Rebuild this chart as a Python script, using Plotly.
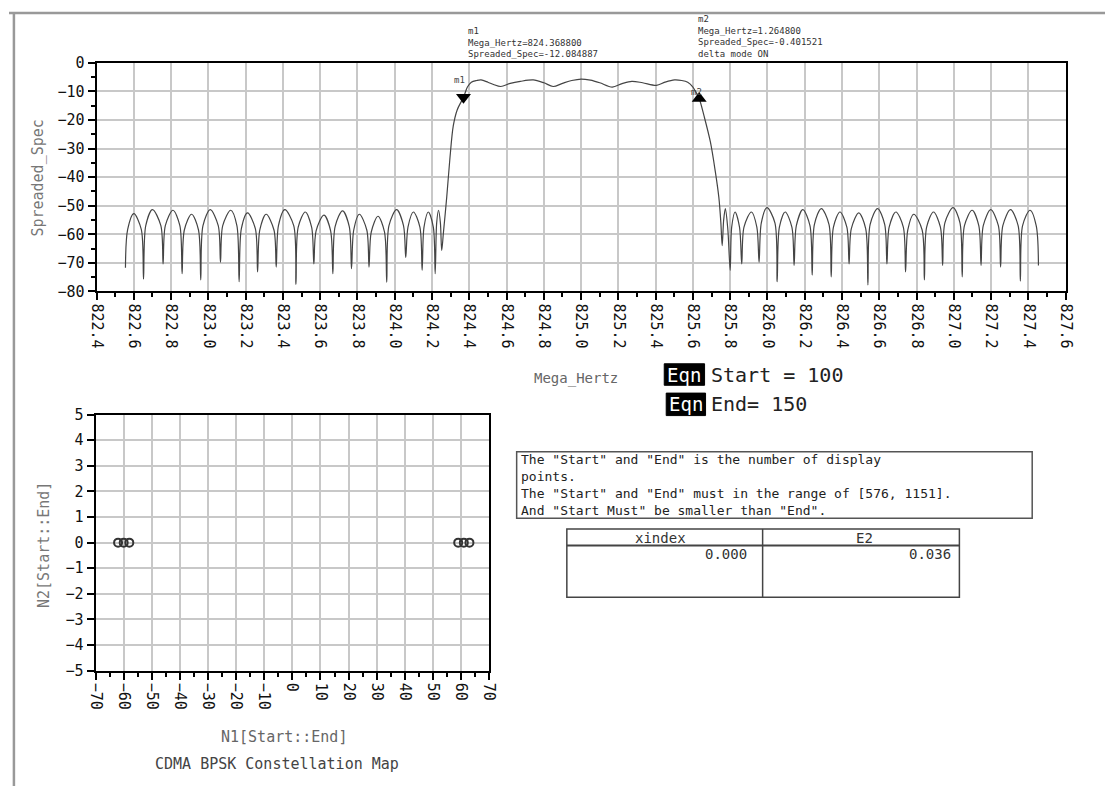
import plotly.graph_objects as go

# ---------------- data ----------------
freq_mhz = [
    # left sidelobes
    822.555, 822.567, 822.600, 822.640, 822.652,
    822.664, 822.700, 822.745, 822.757,
    822.769, 822.810, 822.847, 822.859,
    822.871, 822.910, 822.947, 822.959,
    822.971, 823.010, 823.053, 823.065,
    823.077, 823.120, 823.153, 823.165,
    823.177, 823.210, 823.252, 823.264,
    823.276, 823.310, 823.352, 823.364,
    823.376, 823.410, 823.458, 823.470,
    823.482, 823.520, 823.554, 823.566,
    823.578, 823.620, 823.656, 823.668,
    823.680, 823.720, 823.756, 823.768,
    823.780, 823.810, 823.850, 823.862,
    823.874, 823.910, 823.945, 823.957,
    823.969, 824.010, 824.047, 824.059,
    824.071, 824.100, 824.135, 824.147,
    824.157, 824.180, 824.207, 824.217,
    824.225, 824.235, 824.245, 824.252,
    # main lobe
    824.261, 824.279, 824.296, 824.314, 824.335, 824.3688, 824.390, 824.411, 824.440,
    824.463, 824.500, 824.530, 824.569, 824.620, 824.674, 824.743, 824.800, 824.850,
    824.900, 824.950, 825.000, 825.050, 825.100, 825.167, 825.220, 825.272, 825.330,
    825.404, 825.450, 825.501, 825.540, 825.572, 825.600, 825.615, 825.6336, 825.660,
    825.694, 825.720, 825.739, 825.750, 825.757, 825.765, 825.774, 825.787, 825.800,
    825.808, 825.826, 825.850, 825.862,
    # right sidelobes
    825.874, 825.914, 825.943, 825.955,
    825.967, 825.997, 826.040, 826.052,
    826.064, 826.095, 826.131, 826.143,
    826.155, 826.190, 826.228, 826.240,
    826.252, 826.289, 826.330, 826.342,
    826.354, 826.389, 826.426, 826.438,
    826.450, 826.490, 826.527, 826.539,
    826.551, 826.591, 826.629, 826.641,
    826.653, 826.689, 826.729, 826.741,
    826.753, 826.785, 826.830, 826.842,
    826.854, 826.891, 826.928, 826.940,
    826.952, 826.996, 827.033, 827.045,
    827.057, 827.098, 827.134, 827.146,
    827.158, 827.198, 827.239, 827.251,
    827.263, 827.304, 827.345, 827.357,
    827.369, 827.409, 827.442, 827.454,
]
spreaded_spec = [
    -71.7, -58.3, -52.8, -58.3, -75.7,
    -57.0, -51.4, -57.0, -70.4,
    -57.0, -51.6, -57.0, -73.8,
    -58.5, -53.0, -58.5, -76.0,
    -57.0, -51.4, -57.0, -69.8,
    -57.0, -51.6, -57.0, -76.6,
    -58.0, -52.5, -58.0, -73.2,
    -58.5, -53.0, -58.5, -71.5,
    -57.0, -51.4, -57.0, -77.5,
    -57.5, -52.2, -57.5, -70.4,
    -58.8, -53.3, -58.8, -73.8,
    -57.3, -51.8, -57.3, -72.0,
    -58.5, -53.0, -58.5, -71.5,
    -59.2, -53.7, -59.2, -76.8,
    -57.0, -51.4, -57.0, -68.1,
    -57.5, -52.2, -57.5, -72.6,
    -57.5, -52.2, -57.5, -73.8,
    -56.0, -51.6, -56.0, -65.7,
    -59.6, -47.0, -33.5, -22.1, -16.5, -12.084887, -8.5, -6.8, -6.2,
    -6.0, -6.8, -7.6, -8.3, -7.2, -6.5, -6.0, -7.0, -8.3,
    -7.2, -6.2, -5.7, -6.1, -7.0, -8.5, -7.3, -6.5, -7.0,
    -7.9, -6.8, -6.0, -6.2, -6.8, -8.5, -10.2, -12.486408, -18.7,
    -27.8, -38.0, -47.0, -56.0, -64.0, -55.0, -51.0, -58.0, -72.6,
    -57.5, -52.2, -57.5, -70.4,
    -57.5, -52.2, -57.5, -69.8,
    -56.0, -50.7, -56.0, -76.6,
    -57.5, -52.2, -57.5, -70.9,
    -57.0, -51.4, -57.0, -74.3,
    -56.5, -51.0, -56.5, -74.9,
    -57.5, -52.2, -57.5, -70.4,
    -58.0, -52.5, -58.0, -77.7,
    -56.5, -51.0, -56.5, -70.4,
    -57.5, -52.2, -57.5, -73.2,
    -58.5, -53.0, -58.5, -76.0,
    -57.5, -52.2, -57.5, -70.9,
    -56.0, -50.7, -56.0, -74.9,
    -57.0, -51.6, -57.0, -70.9,
    -57.0, -51.4, -57.0, -71.5,
    -57.0, -51.4, -57.0, -76.4,
    -57.0, -51.6, -57.0, -70.9,
]

m1_freq = [824.3688]
m1_spec = [-12.084887]
m2_freq = [825.6336]
m2_spec = [-12.486408]
m1_lines = ["m1", "Mega_Hertz=824.368800", "Spreaded_Spec=-12.084887"]
m2_lines = ["m2", "Mega_Hertz=1.264800", "Spreaded_Spec=-0.401521", "delta mode ON"]

n1_values = [-62.0, -60.0, -58.0, 59.0, 61.0, 63.0]
n2_values = [0, 0, 0, 0, 0, 0]

eqn_start = "Start = 100"
eqn_end = "End= 150"
note_lines = [
    'The "Start" and "End" is the number of display',
    'points.',
    'The "Start" and "End" must in the range of [576, 1151].',
    'And "Start Must" be smaller than "End".',
]
table_headers = ["xindex", "E2"]
table_values = ["0.000", "0.036"]

# ---------------- layout helpers ----------------
W, H = 1114, 795
def px(x):
    return x / W
def py(y):
    return 1 - y / H

MONO = "DejaVu Sans Mono"
GRID = "#c8c8c8"

fig = go.Figure()

fig.add_trace(go.Scatter(
    x=freq_mhz, y=spreaded_spec, mode="lines",
    line=dict(color="#444444", width=1.2, shape="spline", smoothing=0.9),
    xaxis="x", yaxis="y", showlegend=False, hoverinfo="skip"))
fig.add_trace(go.Scatter(
    x=m1_freq, y=m1_spec, mode="markers",
    marker=dict(symbol="triangle-down", size=13, color="black"),
    xaxis="x", yaxis="y", showlegend=False))
fig.add_trace(go.Scatter(
    x=m2_freq, y=m2_spec, mode="markers",
    marker=dict(symbol="triangle-up", size=13, color="black"),
    xaxis="x", yaxis="y", showlegend=False))
fig.add_trace(go.Scatter(
    x=n1_values, y=n2_values, mode="markers",
    marker=dict(symbol="circle-open", size=8, color="#333333", line=dict(width=2)),
    xaxis="x2", yaxis="y2", showlegend=False))

tickfont = dict(family=MONO, size=15, color="#111111")
axis_common = dict(showline=True, linecolor="black", linewidth=2, mirror=True,
                   ticks="outside", tickcolor="black", tickwidth=2, ticklen=7,
                   showgrid=True, gridcolor=GRID, gridwidth=1.5, zeroline=False,
                   tickfont=tickfont)

fig.update_layout(
    width=W, height=H,
    margin=dict(l=0, r=0, t=0, b=0),
    paper_bgcolor="white", plot_bgcolor="white",
    showlegend=False,
    xaxis=dict(domain=[px(89), px(1074)], range=[822.4, 827.6], tick0=822.4, dtick=0.2,
               tickformat=".1f", tickangle=90, anchor="y",
               minor=dict(dtick=0.1, ticklen=4, tickwidth=2, tickcolor="black", showgrid=False),
               **axis_common),
    yaxis=dict(domain=[py(289), py(55)], range=[-80, 0], dtick=10, anchor="x",
               minor=dict(dtick=5, ticklen=4, tickwidth=2, tickcolor="black", showgrid=False),
               **axis_common),
    xaxis2=dict(domain=[px(88), px(488)], range=[-70, 70], dtick=10, tickangle=90, anchor="y2",
                minor=dict(dtick=5, ticklen=4, tickwidth=2, tickcolor="black", showgrid=False),
                **axis_common),
    yaxis2=dict(domain=[py(677), py(415)], range=[-5, 5], dtick=1, anchor="x2",
                **axis_common),
)

ann = []
def text(x, y, s, size=15, color="#222222", xanchor="center", yanchor="middle", angle=0, **kw):
    ann.append(dict(x=px(x), y=py(y), xref="paper", yref="paper", text=s, showarrow=False,
                    xanchor=xanchor, yanchor=yanchor, textangle=angle,
                    font=dict(family=MONO, size=size, color=color), **kw))

# axis titles
text(30, 173, "Spreaded_Spec", size=15, color="#777777", angle=-90)
text(576, 378, "Mega_Hertz", size=14, color="#666666")
text(35, 548, "N2[Start::End]", size=15, color="#777777", angle=-90)
text(280, 745, "N1[Start::End]", size=15, color="#666666")
text(272, 773, "CDMA BPSK Constellation Map", size=15, color="#444444")

# marker readouts (one multi-line block each)
text(464, 53, "<br>".join(m1_lines), size=9, color="#333333",
     xanchor="left", yanchor="bottom", align="left")
text(698, 53, "<br>".join(m2_lines), size=9, color="#333333",
     xanchor="left", yanchor="bottom", align="left")
text(458, 73, "m1", size=9, color="#444444")
text(699, 85, "m2", size=9, color="#444444")

# equations
text(686, 374, "Eqn", size=19, color="white")
text(711, 374, eqn_start, size=20, color="#222222", xanchor="left")
text(688, 404, "Eqn", size=19, color="white")
text(712, 404, eqn_end, size=20, color="#222222", xanchor="left")

# note block
text(518, 487, "<br>".join(note_lines), size=13, color="#222222",
     xanchor="left", yanchor="middle", align="left")

# table
text(662, 541, table_headers[0], size=14, color="#333333")
text(870, 541, table_headers[1], size=14, color="#333333")
text(752, 558, table_values[0], size=14, color="#333333", xanchor="right")
text(960, 558, table_values[1], size=14, color="#333333", xanchor="right")

shapes = []
def rect(x0, y0, x1, y1, line_color="#444444", width=1.5, fill=None):
    shapes.append(dict(type="rect", xref="paper", yref="paper",
                       x0=px(x0), y0=py(y0), x1=px(x1), y1=py(y1),
                       line=dict(color=line_color, width=width),
                       fillcolor=fill if fill else "rgba(0,0,0,0)", layer="below"))
def line(x0, y0, x1, y1, color="#444444", width=1.5):
    shapes.append(dict(type="line", xref="paper", yref="paper",
                       x0=px(x0), y0=py(y0), x1=px(x1), y1=py(y1),
                       line=dict(color=color, width=width)))

# outer frame
line(0, 4, W, 4, color="#999999", width=2.5)
line(5, 4, 5, H, color="#999999", width=2.5)
# eqn boxes
rect(666, 363, 707, 385, line_color="black", width=1, fill="black")
rect(668, 393, 708, 416, line_color="black", width=1, fill="black")
# note box
rect(516, 453, 1040, 521, line_color="#555555", width=1.5)
# table
rect(567, 532, 966, 602, line_color="#444444", width=1.5)
line(766, 532, 766, 602, color="#444444", width=1.5)
line(567, 549, 966, 549, color="#444444", width=2)

fig.update_layout(annotations=ann, shapes=shapes)
fig.write_html("out.html")
